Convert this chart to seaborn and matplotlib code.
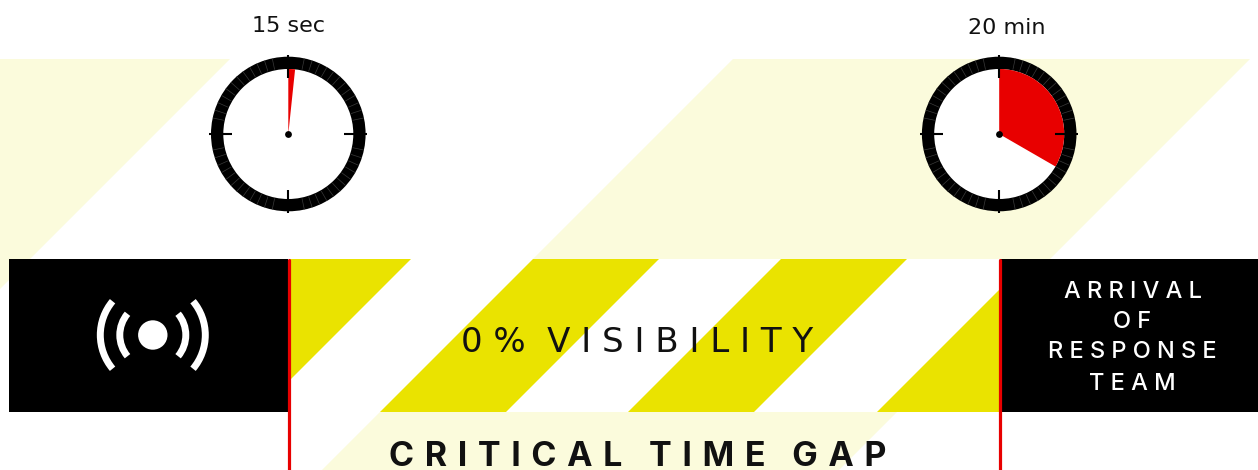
import numpy as np
import pandas as pd
import matplotlib
matplotlib.use("Agg")
import matplotlib.pyplot as plt
from matplotlib.patches import Arc, Circle, Rectangle, Wedge
import seaborn as sns

# clocks
clock_labels = ["15 sec", "20 min"]
clock_x = [288.3, 999.2]
clock_label_x = [288, 1007]
clock_label_y = [32.5, 34]
clock_sweep = [6, 120]  # degrees of red, clockwise from 12
line_x = [288.5, 1000]

# stripes, each one is x + y = start .. end
stripe_start = [0, 792, 1040, 1289]
stripe_end = [670, 918, 1166, 1500]
pale_start = [0, 792]
pale_end = [289, 1309]

band_labels = ["0 %  V I S I B I L I T Y",
               "C\u200a R\u200a I\u200a T\u200a I\u200a C\u200a A\u200a L\u200a   T\u200a I\u200a M\u200a E\u200a   G\u200a A\u200a P"]
right_lines = ["A R R I V A L", "O F", "R E S P O N S E", "T E A M"]
right_baselines = [298, 328, 358.5, 389.5]

RED = "#e80000"
YELLOW = "#eae300"
PALE = "#fbfbdc"

sns.set_theme(style="white")
plt.rcParams["font.family"] = ["DejaVu Sans"]

fig = plt.figure(figsize=(12.58, 4.70), dpi=100)
ax = fig.add_axes([0, 0, 1, 1])
ax.set_xlim(0, 1258)
ax.set_ylim(470, 0)
ax.axis("off")


def stripe(s, e, box, color, z):
    # x + y between s and e, cut to the box (left, top, right, bottom)
    left, top, right, bottom = box
    poly = ax.fill([s - top, e - top, e - bottom, s - bottom], [top, top, bottom, bottom],
                   color=color, lw=0, zorder=z)[0]
    clip = Rectangle((left, top), right - left, bottom - top, transform=ax.transData)
    poly.set_clip_path(clip)


for s, e in zip(pale_start, pale_end):
    stripe(s, e, (0, 59, 1258, 470), PALE, 1)

ax.add_patch(Rectangle((289, 259), 711, 153, color="white", lw=0, zorder=2))
for s, e in zip(stripe_start, stripe_end):
    stripe(s, e, (289, 259, 1000, 412), YELLOW, 3)

ax.add_patch(Rectangle((9, 259), 279, 153, color="black", lw=0, zorder=4))
ax.add_patch(Rectangle((1001, 259), 257, 153, color="black", lw=0, zorder=4))

# red lines
for x in line_x:
    df = pd.DataFrame({"x": [x, x], "y": [260, 470]})
    sns.lineplot(data=df, x="x", y="y", estimator=None, sort=False, color=RED, lw=2.3, ax=ax, zorder=5)

# clocks
for x, lab, lx, ly, sweep in zip(clock_x, clock_labels, clock_label_x, clock_label_y, clock_sweep):
    cy = 134
    ax.add_patch(Circle((x, cy), 77.3, color="black", lw=0, zorder=4))
    ax.add_patch(Circle((x, cy), 65, color="white", lw=0, zorder=5))
    # y axis is flipped so angles run clockwise
    ax.add_patch(Wedge((x, cy), 65, -90, -90 + sweep, color=RED, lw=0, zorder=6))
    for a in np.arange(0, 360, 6):
        if a % 90 in (0, 6, 84):
            continue
        t = np.radians(a)
        ax.plot([x + 66 * np.sin(t), x + 77 * np.sin(t)], [cy - 66 * np.cos(t), cy - 77 * np.cos(t)],
                color="#3a3a3a", lw=0.5, zorder=6)
    for a in range(0, 360, 90):
        t = np.radians(a)
        ax.plot([x + 56 * np.sin(t), x + 79 * np.sin(t)], [cy - 56 * np.cos(t), cy - 79 * np.cos(t)],
                color="black", lw=1.5, solid_capstyle="butt", zorder=7)
    sns.scatterplot(x=[x], y=[cy], color="black", s=24, linewidth=0, ax=ax, zorder=8)
    ax.text(lx, ly, lab, ha="center", va="baseline", fontsize=16, color="#111111")

# signal icon
icx, icy = 152.8, 335
ax.add_patch(Circle((icx, icy), 14.7, color="white", lw=0, zorder=5))
for r in [33, 52.5]:
    for mid in [0, 180]:
        ax.add_patch(Arc((icx, icy), 2 * r, 2 * r, theta1=mid - 40, theta2=mid + 40,
                         color="white", lw=5, zorder=5))

ax.text(637.5, 352.5, band_labels[0], ha="center", va="baseline", fontsize=24.5, color="#111111", zorder=6)
ax.text(637.5, 466, band_labels[1], ha="center", va="baseline", fontsize=24.5, fontweight="bold",
        family="Inter", color="#111111", zorder=6)
for y, line in zip(right_baselines, right_lines):
    ax.text(1132.5, y, line, ha="center", va="baseline", fontsize=17, fontweight="medium", family="Inter",
            color="white", zorder=6)

fig.savefig("out.png", dpi=100)
